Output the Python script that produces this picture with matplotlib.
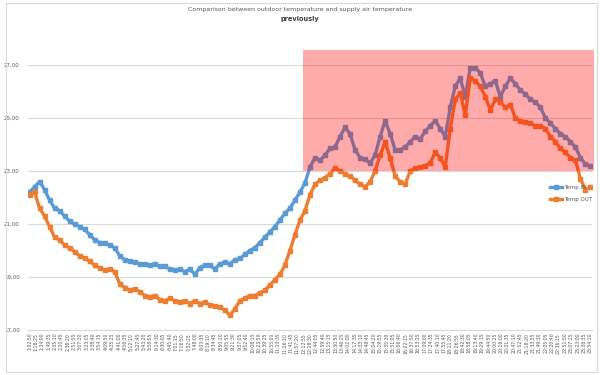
import matplotlib
matplotlib.use("Agg")
import matplotlib.pyplot as plt
import numpy as np
from matplotlib.patches import Rectangle

# readings, left to right
temp_in = [22.2, 22.4, 22.6, 22.3, 21.9, 21.6, 21.5, 21.3, 21.1, 21.0,
           20.9, 20.8, 20.6, 20.4, 20.3, 20.3, 20.2, 20.1, 19.8, 19.65,
           19.6, 19.55, 19.5, 19.5, 19.45, 19.5, 19.4, 19.4, 19.3, 19.25,
           19.3, 19.2, 19.3, 19.1, 19.35, 19.45, 19.45, 19.3, 19.5, 19.55,
           19.5, 19.65, 19.7, 19.85, 20.0, 20.1, 20.3, 20.5, 20.7, 20.9,
           21.15, 21.4, 21.6, 21.9, 22.2, 22.55, 23.15, 23.5, 23.4, 23.6,
           23.85, 23.9, 24.3, 24.65, 24.4, 23.8, 23.5, 23.45, 23.3, 23.6,
           24.3, 24.9, 24.4, 23.8, 23.8, 23.9, 24.1, 24.3, 24.2, 24.5,
           24.7, 24.9, 24.6, 24.3, 25.4, 26.2, 26.5, 25.8, 26.9, 26.9,
           26.7, 26.2, 26.3, 26.4, 25.8, 26.2, 26.5, 26.3, 26.05, 25.9,
           25.7, 25.6, 25.4, 25.0, 24.8, 24.6, 24.4, 24.3, 24.1, 23.9,
           23.5, 23.25, 23.2]

temp_out = [22.1, 22.2, 21.6, 21.3, 20.9, 20.5, 20.4, 20.2, 20.1, 19.95,
            19.8, 19.7, 19.6, 19.45, 19.35, 19.25, 19.3, 19.2, 18.75, 18.6,
            18.5, 18.55, 18.45, 18.3, 18.25, 18.3, 18.15, 18.1, 18.2, 18.1,
            18.05, 18.1, 18.0, 18.1, 18.0, 18.05, 17.95, 17.9, 17.85, 17.75,
            17.55, 17.8, 18.1, 18.2, 18.3, 18.3, 18.4, 18.5, 18.7, 18.9,
            19.1, 19.45, 20.0, 20.6, 21.15, 21.5, 22.1, 22.5, 22.65, 22.75,
            22.9, 23.1, 23.0, 22.9, 22.8, 22.65, 22.5, 22.4, 22.6, 23.0,
            23.6, 24.1, 23.5, 22.8, 22.6, 22.5, 23.0, 23.1, 23.15, 23.2,
            23.3, 23.7, 23.5, 23.15, 24.6, 25.7, 25.95, 25.1, 26.5, 26.4,
            26.2, 25.8, 25.3, 25.7, 25.6, 25.4, 25.5, 25.0, 24.9, 24.85,
            24.8, 24.7, 24.7, 24.6, 24.3, 24.1, 23.85, 23.7, 23.5, 23.4,
            22.7, 22.3, 22.4]

# x labels: times every ~15.5 min from 1:02:50
start_s = 3770
step_s = 935
n_labels = 89
time_labels = []
for k in range(n_labels):
    s = start_s + k * step_s
    time_labels.append("%d:%02d:%02d" % (s // 3600, (s % 3600) // 60, s % 60))

y_ticks = [17, 19, 21, 23, 25, 27]

blue = "#5B9BD5"
orange = "#ED7D31"
grey = "#595959"

fig = plt.figure(figsize=(6, 3.75), dpi=100)
ax = fig.add_axes([28/600, 1-330/375, (592-28)/600, (330-65)/375])

x = np.arange(len(temp_in))
ax.plot(x, temp_in, color=blue, lw=2.4, marker="s", ms=2.2, label="Temp IN")
ax.plot(x, temp_out, color=orange, lw=2.4, marker="s", ms=2.2, label="Temp OUT")

ax.set_ylim(17, 27)
ax.set_xlim(-0.3, len(temp_in) - 0.7)
ax.set_yticks(y_ticks)
ax.yaxis.set_major_formatter(matplotlib.ticker.FuncFormatter(lambda v, p: ("%.2f" % v).replace(".", ",")))
ax.set_xticks(np.linspace(0, len(temp_in) - 1, n_labels))
ax.set_xticklabels(time_labels, rotation=90)
ax.tick_params(axis="y", length=0, labelsize=4, colors=grey, pad=6)
ax.tick_params(axis="x", length=0, labelsize=3.3, colors=grey, pad=2)
ax.grid(axis="y", color="#D9D9D9", lw=0.8)
ax.set_axisbelow(True)
for side in ["top", "right", "left"]:
    ax.spines[side].set_visible(False)
ax.spines["bottom"].set_color("#D9D9D9")

fig.text(0.5, 1-10/375, "Comparison between outdoor temperature and supply air temperature",
         ha="center", va="center", fontsize=4.5, color=grey)
fig.text(0.5, 1-19/375, "previously", ha="center", va="center", fontsize=4.8,
         color="#404040", fontweight="bold")

# highlighted region
fig.patches.append(Rectangle((303/600, 1-171/375), (594-303)/600, (171-50)/375,
                             transform=fig.transFigure, color="red", alpha=0.33,
                             lw=0, zorder=5))

fig.legend(loc="upper left", bbox_to_anchor=(545/600, 1-180/375), frameon=False,
           fontsize=4, labelcolor=grey, handlelength=2.2, handletextpad=0.3,
           labelspacing=1.2)

# chart border
fig.patches.append(Rectangle((6/600, 3/375), 591/600, 369/375, transform=fig.transFigure,
                             fill=False, ec="#D9D9D9", lw=0.8))

fig.savefig("out.png", dpi=100)
